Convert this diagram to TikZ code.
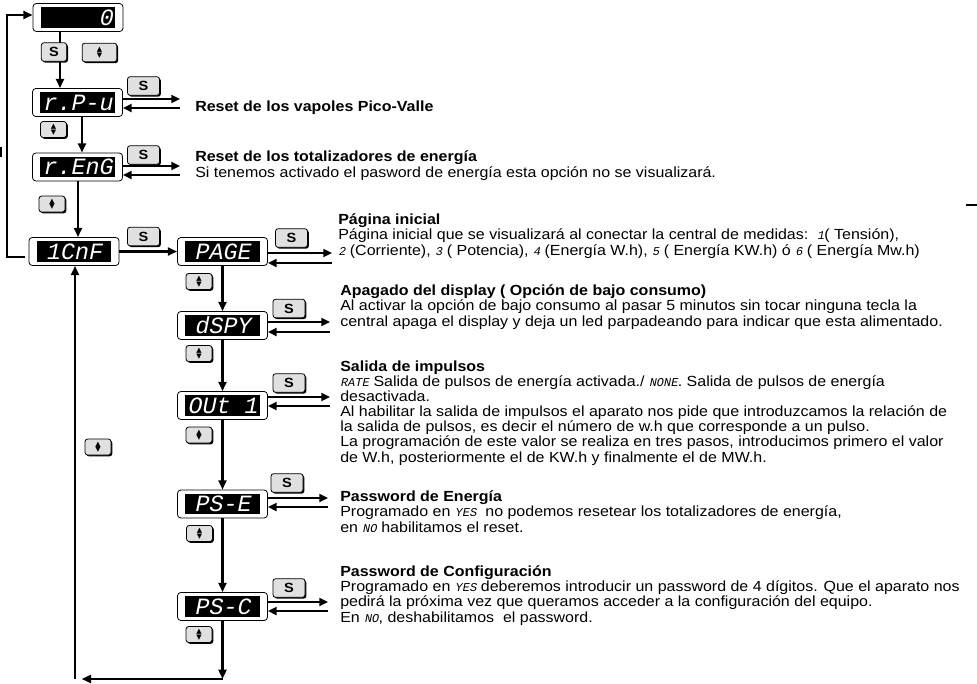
\documentclass[tikz,border=0pt]{standalone}
\usepackage{fontspec}
\setmainfont[FakeStretch=1.09]{Liberation Sans}
\newfontfamily\segfont[FakeSlant=0.2]{Liberation Mono}
\newfontfamily\symbfont{DejaVu Sans}
\usepackage{tikz}
\usetikzlibrary{shapes}
\usetikzlibrary{arrows.meta}
\usetikzlibrary{shadows}
\newcommand{\segtxt}[1]{{\segfont\fontsize{9}{9}\selectfont #1}}
\tikzstyle{cadre}=[
        rectangle,
        draw,
        rounded corners=2.5pt,
        fill=white,
        line width=0.6pt,
        minimum width=67.5pt,
        minimum height=21pt
]
\tikzstyle{ecran}=[rectangle,fill=black,text=white,inner sep=0pt,minimum width=56pt,minimum height=15.5pt,font=\segfont\fontsize{17.5}{17.5}\selectfont]
\tikzstyle{touche}=[rectangle,draw,rounded corners=2pt,fill=black!12,line width=0.6pt,inner sep=0pt,minimum width=24pt,minimum height=14pt,font=\bfseries\fontsize{10}{10}\selectfont,drop shadow={shadow xshift=1pt,shadow yshift=-1pt,opacity=1,fill=black}]
\tikzstyle{fleches}=[touche,minimum width=19.5pt,minimum height=12pt,align=center,font=\symbfont\fontsize{5.2}{4.2}\selectfont]
\tikzstyle{texte}=[anchor=base west,align=left,inner sep=0pt,font=\fontsize{11}{11.3}\selectfont]
\tikzstyle{suite}=[-{Triangle[length=7pt,width=6pt]},line width=1.7pt]
\tikzstyle{retour}=[-{Triangle[length=6.5pt,width=6pt]},line width=1.4pt]

\begin{document}
\begin{tikzpicture}[x=0.75pt,y=-0.75pt]
\useasboundingbox (0,0) rectangle (977,683);
%Afficheurs
\node[cadre] (zero) at (78,17.5) {};
\node[ecran,text width=52pt,align=right] (zeroa) at (zero) {0};
\node[cadre] (rpu) at (77.5,102.5) {};
\node[ecran] (rpua) at (rpu) {r.P-u};
\node[cadre] (ren) at (77.5,167) {};
\node[ecran] (rena) at (ren) {r.EnG};
\node[cadre] (cnf) at (74,251.5) {};
\node[ecran] (cnfa) at (cnf) {1CnF};
\node[cadre] (pag) at (222.5,251.5) {};
\node[ecran] (paga) at (pag) {PAGE};
\node[cadre] (dsp) at (222.5,325.5) {};
\node[ecran] (dspa) at (dsp) {dSPY};
\node[cadre] (out) at (222.5,405.5) {};
\node[ecran] (outa) at (out) {OUt 1};
\node[cadre] (pse) at (222.5,504) {};
\node[ecran] (psea) at (pse) {PS-E};
\node[cadre] (psc) at (222.5,606.5) {};
\node[ecran] (psca) at (psc) {PS-C};
\coordinate (rpuA) at (180,99);
\coordinate (rpuB) at (180,108);
\coordinate (renA) at (180,166);
\coordinate (renB) at (180,175);
\coordinate (pagA) at (332,253);
\coordinate (pagB) at (332,263);
\coordinate (dspA) at (330,322);
\coordinate (dspB) at (330,332);
\coordinate (outA) at (330,397);
\coordinate (outB) at (330,406);
\coordinate (pseA) at (328,498);
\coordinate (pseB) at (328,507);
\coordinate (pscA) at (328,602);
\coordinate (pscB) at (328,611);
\coordinate (boucle) at (25,257);
\coordinate (basD) at (222.5,679);
\coordinate (basG) at (75,679);
%Placement des fleches
\draw[suite] (zero.south -| 60,0) -- (rpu.north -| 60,0);
\draw[suite] (rpu.south -| 82,0) -- (ren.north -| 82,0);
\draw[suite] (ren.south -| 78,0) -- (cnf.north -| 78,0);
\draw[suite] (cnf) -- (pag);
\draw[suite] (pag) -- (dsp);
\draw[suite] (dsp) -- (out);
\draw[suite] (out) -- (pse);
\draw[suite] (pse) -- (psc);
\draw[suite] (psc) -- (basD);
\draw[suite,shorten >=5pt] (basD) -- (basG);
\draw[suite] (basG) -- (cnf.south -| basG);
\draw[suite] (boucle) -- (7,257) -- (7,15) -- (zero.west |- 0,15);
\draw[retour] (rpu.east |- rpuA) -- (rpuA);
\draw[retour] (rpuB) -- (rpu.east |- rpuB);
\draw[retour] (ren.east |- renA) -- (renA);
\draw[retour] (renB) -- (ren.east |- renB);
\draw[retour] (pag.east |- pagA) -- (pagA);
\draw[retour] (pagB) -- (pag.east |- pagB);
\draw[retour] (dsp.east |- dspA) -- (dspA);
\draw[retour] (dspB) -- (dsp.east |- dspB);
\draw[retour] (out.east |- outA) -- (outA);
\draw[retour] (outB) -- (out.east |- outB);
\draw[retour] (pse.east |- pseA) -- (pseA);
\draw[retour] (pseB) -- (pse.east |- pseB);
\draw[retour] (psc.east |- pscA) -- (pscA);
\draw[retour] (pscB) -- (psc.east |- pscB);
\draw[line width=1.3pt] (1,147) -- (1,157);
\draw[line width=1pt] (966,205) -- (977,205);
%Touches
\node[touche,minimum width=19pt] (s0) at (54,52) {S};
\node[fleches,minimum width=26pt,minimum height=14pt] (f0) at (99.5,52.5) {▲\\▼};
\node[touche] (s1) at (143.5,86) {S};
\node[fleches] (f1) at (53.5,129.5) {▲\\▼};
\node[touche] (s2) at (143.5,155) {S};
\node[fleches] (f2) at (52,204) {▲\\▼};
\node[touche] (s3) at (143.5,236.5) {S};
\node[touche] (s4) at (291.5,238) {S};
\node[fleches] (f4) at (199,281.5) {▲\\▼};
\node[touche] (s5) at (289,308.5) {S};
\node[fleches] (f5) at (199,353.5) {▲\\▼};
\node[touche] (s6) at (289,383) {S};
\node[fleches] (f6) at (199,435) {▲\\▼};
\node[fleches] (f7) at (98,447) {▲\\▼};
\node[touche] (s8) at (287,483) {S};
\node[fleches] (f8) at (199.5,533.5) {▲\\▼};
\node[touche] (s9) at (289,588) {S};
\node[fleches] (f9) at (199,634.5) {▲\\▼};
%Textes (ancre = ligne de base de la derniere ligne)
\node[texte] (trpu) at (195,111) {\textbf{Reset de los vapoles Pico-Valle}};
\node[texte] (tren) at (195,177) {\textbf{Reset de los totalizadores de energía}\\Si tenemos activado el pasword de energía esta opción no se visualizará.};
\node[texte] (tpag) at (338,255) {\textbf{Página inicial}\\Página inicial que se visualizará al conectar la central de medidas:\ \ \segtxt{1}( Tensión),\\\segtxt{2} (Corriente), \segtxt{3} ( Potencia), \segtxt{4} (Energía W.h), \segtxt{5} ( Energía KW.h) ó \segtxt{6} ( Energía Mw.h)};
\node[texte] (tdsp) at (340,326) {\textbf{Apagado del display ( Opción de bajo consumo)}\\Al activar la opción de bajo consumo al pasar 5 minutos sin tocar ninguna tecla la\\central apaga el display y deja un led parpadeando para indicar que esta alimentado.};
\node[texte] (tout) at (340,462) {\textbf{Salida de impulsos}\\\segtxt{RATE} Salida de pulsos de energía activada./ \segtxt{NONE}. Salida de pulsos de energía\\desactivada.\\Al habilitar la salida de impulsos el aparato nos pide que introduzcamos la relación de\\la salida de pulsos, es decir el número de w.h que corresponde a un pulso.\\La programación de este valor se realiza en tres pasos, introducimos primero el valor\\de W.h, posteriormente el de KW.h y finalmente el de MW.h.};
\node[texte] (tpse) at (340,532) {\textbf{Password de Energía}\\Programado en \segtxt{YES}\ \ no podemos resetear los totalizadores de energía,\\en \segtxt{NO} habilitamos el reset.};
\node[texte] (tpsc) at (340,622) {\textbf{Password de Configuración}\\Programado en \segtxt{YES} deberemos introducir un password de 4 dígitos. Que el aparato nos\\pedirá la próxima vez que queramos acceder a la configuración del equipo.\\En \segtxt{NO}, deshabilitamos\ \ el password.};
\end{tikzpicture}
\end{document}
